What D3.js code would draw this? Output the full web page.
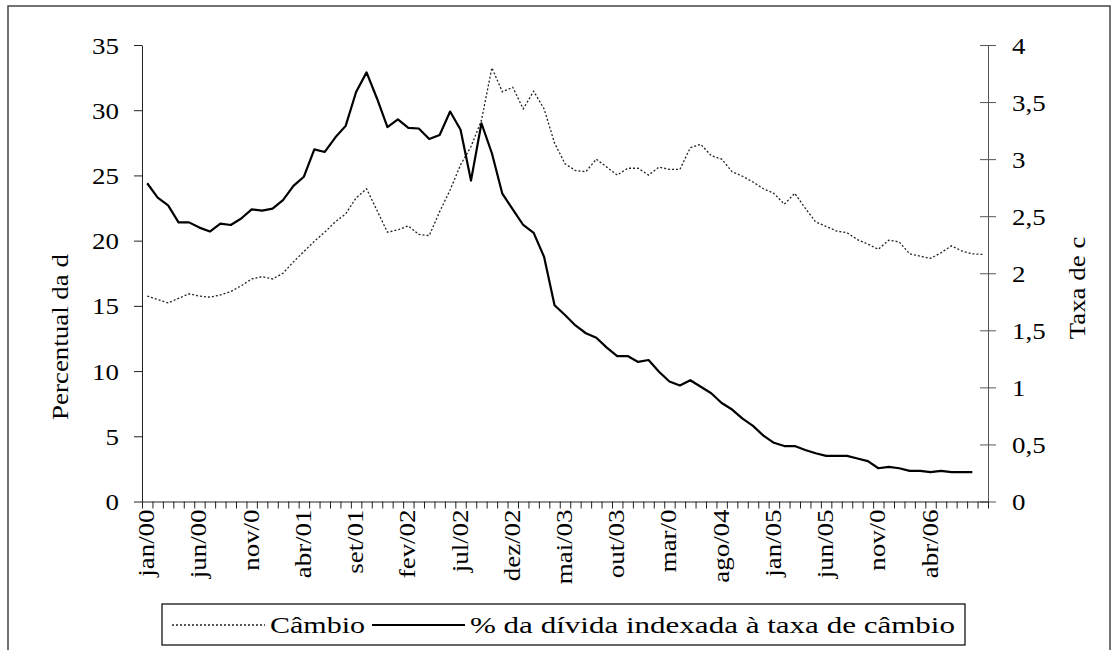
<!DOCTYPE html>
<html>
<head>
<meta charset="utf-8">
<script src="https://cdn.jsdelivr.net/npm/d3@7"></script>
<style>
  body { margin: 0; background: #fff; }
  text { font-family: "Liberation Serif", "Times New Roman", serif; fill: #000; }
</style>
</head>
<body>
<div id="chart"></div>
<script>
// monthly categories jan/00 .. set/06
const monthNames = ["jan", "fev", "mar", "abr", "mai", "jun", "jul", "ago", "set", "out", "nov", "dez"];
const categories = [];
for (let y = 0; y <= 6; y++) {
    monthNames.forEach(m => categories.push(m + "/0" + y));
}
categories.length = 81;

// labels as they appear on the axis (every 5th month, some truncated)
const tickLabels = ["jan/00", "jun/00", "nov/0", "abr/01", "set/01", "fev/02", "jul/02", "dez/02",
    "mai/03", "out/03", "mar/0", "ago/04", "jan/05", "jun/05", "nov/0", "abr/06"];

// % of debt indexed to exchange rate (left axis), jan/00 .. ago/06
const dividaIndexada = [
    24.4, 23.3, 22.7, 21.4, 21.4, 21.0, 20.7, 21.3, 21.2, 21.7,
    22.4, 22.3, 22.45, 23.1, 24.2, 24.9, 27.0, 26.8, 27.9, 28.8,
    31.4, 32.9, 30.9, 28.7, 29.3, 28.65, 28.6, 27.8, 28.1, 29.9,
    28.5, 24.6, 29.0, 26.7, 23.6, 22.4, 21.2, 20.6, 18.75, 15.05,
    14.3, 13.5, 12.9, 12.55, 11.8, 11.15, 11.15, 10.7, 10.85, 9.95,
    9.2, 8.9, 9.3, 8.8, 8.3, 7.55, 7.05, 6.35, 5.8, 5.05,
    4.5, 4.25, 4.25, 3.95, 3.7, 3.5, 3.5, 3.5, 3.3, 3.1,
    2.55, 2.65, 2.55, 2.35, 2.35, 2.25, 2.35, 2.25, 2.25, 2.25
];

// exchange rate (right axis), jan/00 .. set/06
const cambio = [
    1.80, 1.77, 1.74, 1.78, 1.82, 1.80, 1.79, 1.81, 1.84, 1.89,
    1.95, 1.97, 1.95, 2.00, 2.10, 2.19, 2.28, 2.36, 2.45, 2.52,
    2.66, 2.74, 2.55, 2.36, 2.38, 2.415, 2.34, 2.33, 2.54, 2.73,
    2.95, 3.11, 3.34, 3.80, 3.59, 3.63, 3.44, 3.595, 3.44, 3.14,
    2.96, 2.90, 2.89, 3.00, 2.93, 2.86, 2.92, 2.92, 2.86, 2.93,
    2.91, 2.91, 3.10, 3.13, 3.03, 3.00, 2.89, 2.85, 2.80, 2.74,
    2.70, 2.605, 2.70, 2.57, 2.45, 2.41, 2.37, 2.355, 2.295, 2.255,
    2.21, 2.29, 2.275, 2.17, 2.15, 2.13, 2.18, 2.24, 2.195, 2.17, 2.165
];

const leftTicks = [0, 5, 10, 15, 20, 25, 30, 35];
const rightTicks = [0, 0.5, 1, 1.5, 2, 2.5, 3, 3.5, 4];

const W = 1117, H = 650;
const SX = 1.17; // glyphs in the picture are a bit wider than the font
const plot = { left: 142, right: 988, top: 45, bottom: 501.5 };

const svg = d3.select("#chart").append("svg")
    .attr("width", W)
    .attr("height", H);

// outer frame
svg.append("rect")
    .attr("x", 8).attr("y", 6)
    .attr("width", 1102).attr("height", 660)
    .attr("fill", "none")
    .attr("stroke", "#444")
    .attr("stroke-width", 1.5);

const x = d3.scaleLinear().domain([0, categories.length]).range([plot.left, plot.right]);
const yL = d3.scaleLinear().domain([0, 35]).range([plot.bottom, plot.top]);
const yR = d3.scaleLinear().domain([0, 4]).range([plot.bottom, plot.top]);
const cx = i => x(i + 0.5);

const fmtComma = d => String(d).replace(".", ",");

// left axis
const gL = svg.append("g")
    .attr("transform", `translate(${plot.left},0)`)
    .call(d3.axisLeft(yL).tickValues(leftTicks).tickSize(8).tickSizeOuter(0).tickPadding(0));
gL.select(".domain").attr("stroke", "#222");
gL.selectAll(".tick line").attr("stroke", "#222");
gL.selectAll(".tick text")
    .attr("x", null).attr("dy", null)
    .attr("transform", `translate(-23,8) scale(${SX},1)`)
    .style("font-size", "23px");

// right axis
const gR = svg.append("g")
    .attr("transform", `translate(${plot.right},0)`)
    .call(d3.axisRight(yR).tickValues(rightTicks).tickFormat(fmtComma).tickSize(8).tickSizeOuter(0).tickPadding(0));
gR.select(".domain").attr("stroke", "#555");
gR.selectAll(".tick line").attr("stroke", "#555").attr("x1", -8);
gR.selectAll(".tick text")
    .attr("x", null).attr("dy", null)
    .attr("transform", `translate(24,8) scale(${SX},1)`)
    .style("font-size", "23px");

// bottom axis: ticks between categories
const gX = svg.append("g")
    .attr("transform", `translate(0,${plot.bottom})`)
    .call(d3.axisBottom(x).tickValues(d3.range(0, categories.length + 1)).tickFormat("").tickSize(7).tickSizeOuter(0));
gX.select(".domain").attr("stroke", "#222");
gX.selectAll(".tick line").attr("stroke", "#222");

svg.append("g").selectAll("text")
    .data(tickLabels)
    .join("text")
    .attr("text-anchor", "end")
    .attr("transform", (d, i) => `translate(${cx(i * 5) + 7},${plot.bottom + 8}) rotate(-90) scale(${SX},1)`)
    .style("font-size", "23px")
    .text(d => d);

// axis titles
svg.append("text")
    .attr("text-anchor", "middle")
    .attr("transform", `translate(68,337) rotate(-90) scale(${SX},1)`)
    .style("font-size", "23px")
    .text("Percentual da d");

svg.append("text")
    .attr("text-anchor", "middle")
    .attr("transform", `translate(1085,288) rotate(-90) scale(${SX},1)`)
    .style("font-size", "23px")
    .text("Taxa de c");

// lines
const lineL = d3.line().x((d, i) => cx(i)).y(d => yL(d));
const lineR = d3.line().x((d, i) => cx(i)).y(d => yR(d));

svg.append("path")
    .datum(cambio)
    .attr("d", lineR)
    .attr("fill", "none")
    .attr("stroke", "#222")
    .attr("stroke-width", 1.3)
    .attr("stroke-dasharray", "2,2");

svg.append("path")
    .datum(dividaIndexada)
    .attr("d", lineL)
    .attr("fill", "none")
    .attr("stroke", "#000")
    .attr("stroke-width", 2.2)
    .attr("stroke-linejoin", "round");

// legend
const lg = svg.append("g");
lg.append("rect")
    .attr("x", 162).attr("y", 604)
    .attr("width", 803).attr("height", 41)
    .attr("fill", "#fff")
    .attr("stroke", "#000")
    .attr("stroke-width", 1.2);

lg.append("line")
    .attr("x1", 172).attr("x2", 265).attr("y1", 625).attr("y2", 625)
    .attr("stroke", "#222").attr("stroke-width", 1.3).attr("stroke-dasharray", "2,2");
lg.append("text")
    .attr("x", 270).attr("y", 633)
    .attr("textLength", 95).attr("lengthAdjust", "spacingAndGlyphs")
    .style("font-size", "24px")
    .text("Câmbio");

lg.append("line")
    .attr("x1", 372).attr("x2", 465).attr("y1", 625).attr("y2", 625)
    .attr("stroke", "#000").attr("stroke-width", 2.2);
lg.append("text")
    .attr("x", 470).attr("y", 633)
    .attr("textLength", 485).attr("lengthAdjust", "spacingAndGlyphs")
    .style("font-size", "24px")
    .text("% da dívida indexada à taxa de câmbio");
</script>
</body>
</html>
